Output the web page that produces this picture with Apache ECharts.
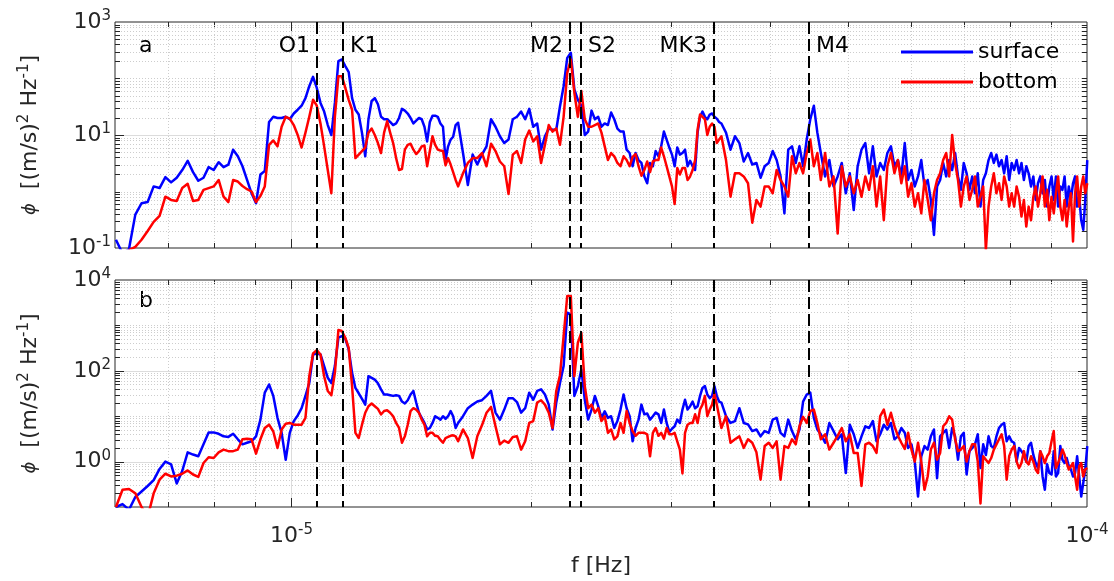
<!DOCTYPE html>
<html>
<head>
<meta charset="UTF-8">
<title>surface / bottom spectra</title>
<script src="https://cdn.jsdelivr.net/npm/echarts@6/dist/echarts.min.js"></script>
<style>
  html, body { margin: 0; padding: 0; background: #fff; }
  #main { width: 1114px; height: 581px; }
</style>
</head>
<body>
<div id="main"></div>
<script>
// spectral bins: f = k * df, kept bins per segment [first, last, step]
var df = 1.157e-7;
var binSteps = [[52, 140, 1], [142, 300, 2], [304, 400, 4], [405, 865, 5]];

// panel a
var surfA = [
  0.14, 0.08, 0.096, 0.39, 0.62, 0.65, 1.23, 1.15, 1.8, 1.45,
  1.75, 2.4, 3.5, 2.2, 1.55, 1.75, 2.7, 2.4, 3.3, 2.7,
  3.0, 5.5, 4.2, 2.8, 1.6, 0.93, 0.62, 2.0, 2.3, 17,
  21, 20, 20, 21, 19, 24, 28, 33, 45, 73,
  107, 68, 37, 26, 15, 10, 37, 203, 217, 166,
  130, 45, 28, 23, 10.9, 4.2, 19, 40, 45, 35,
  21, 19, 19, 17, 15, 16, 20, 29, 27, 24,
  20, 16, 18, 20, 19, 14, 7.7, 17, 22, 22,
  21, 16, 14, 3.6, 6.3, 8.3, 9.3, 15, 16.5,
  4.8, 1.3, 4.5, 3.0, 4.5, 6.3, 19, 14, 9.5, 7.2,
  8.3, 19, 21, 26, 19, 29, 14, 16, 5.5, 9.5,
  13, 12.4, 12.4, 32, 73, 232, 286, 64, 42, 33,
  10, 11.5, 27, 19, 21, 14, 16, 15, 25, 19,
  13, 11.5, 11.5, 5.5, 4.8, 2.8, 4.8, 3.6, 3.2, 1.85,
  1.4, 3.2, 2.8, 5.2, 4.2, 6.3, 11.5, 8.3, 6, 4.5,
  2.8, 6, 4.5, 4.8, 5.5, 2.8, 3.5, 2.8, 2.4, 11,
  21, 26, 21, 19, 23, 24, 21, 19.5, 17, 16,
  11, 5.5, 9.5, 7.2, 3.4, 4.8, 3.0, 3.2, 1.75, 2.8,
  3.2, 5.2, 3.6, 1.85, 0.41, 5.5, 6.3, 3.2, 6.3, 2.8, 8.3, 19, 33, 11, 4.8,
  1.85, 3.6, 1.23, 1.85, 3.2, 0.93, 2.1, 0.47, 2.8, 5.5,
  7.2, 2.1, 6.3, 1.85, 3.2, 2.4, 4.8, 6.3, 2.8, 3.6,
  1.85, 7.2, 1.6, 2.4, 1.23, 1.85, 3.6, 1.23, 1.6, 0.71,
  0.17, 1.23, 1.6, 3.2, 1.85, 3.6, 2.4, 4.8, 1.85, 1.07,
  3.2, 2.1, 1.07, 1.85, 0.93, 2.1, 0.54, 1.6, 2.1, 3.6,
  4.8, 3.2, 4.5, 2.8, 3.6, 2.1, 4.2, 1.6, 3.2, 2.4,
  3.6, 2.1, 3.2, 1.6, 2.8, 2.1, 1.23, 1.85, 0.71, 1.4,
  1.85, 0.93, 1.6, 0.54, 1.23, 1.85, 0.71, 1.85, 0.54, 1.23,
  1.07, 1.85, 0.54, 1.23, 0.71, 1.4, 1.85, 0.54, 0.81, 0.31,
  0.21, 0.71, 3.6
];
var botA = [
  0.04, 0.07, 0.092, 0.105, 0.14, 0.2, 0.29, 0.37, 0.81, 0.71,
  0.68, 1.15, 1.37, 0.68, 0.71, 1.07, 1.15, 1.23, 1.6, 0.81,
  0.65, 1.6, 1.5, 1.25, 1.1, 1.0, 0.65, 0.83, 1.23, 6.7,
  8, 6.3, 14, 21, 19.5, 15, 10, 6, 11, 21,
  42, 33, 16, 6.3, 2.4, 0.93, 21, 110, 110, 68,
  42, 28, 3.9, 4.5, 5.2, 6, 11, 13, 10, 7.2,
  4.8, 11, 17.5, 11, 7.2, 3.9, 2.4, 2.5, 5.5, 6.7,
  7, 5.5, 4.6, 5.2, 6.3, 6.5, 2.8, 5.2, 9.5, 6.7,
  5.5, 5.3, 5.2, 2.9, 3.9, 3.0, 2.2, 1.6, 1.23,
  2.1, 3.2, 3.9, 3.9, 4.8, 2.8, 7, 5.2, 3.4, 2.8,
  0.9, 4.5, 5.2, 3.2, 8.3, 12, 7.7, 9.5, 3.2, 6.7,
  15, 11.5, 13, 6.7, 21, 126, 217, 56, 21, 60,
  19, 14, 14, 15, 16, 11, 6.3, 3.6, 4.8, 4.2,
  3.2, 2.8, 4.2, 3.6, 2.8, 4.1, 4.6, 2.8, 1.9, 2.4,
  3.4, 2.2, 3.4, 3.6, 3.6, 6, 4.2, 2.8, 1.85, 1.23,
  0.6, 2.6, 2, 2.6, 2.6, 1.6, 1.85, 2.4, 3.6, 12.4,
  23, 21, 19, 10, 14, 16, 14, 7.2, 8.3, 9.5,
  3.6, 0.81, 2.1, 2.1, 1.85, 1.4, 0.28, 0.71, 0.54, 1.23,
  1.23, 0.93, 2.4, 1.6, 1.23, 0.81, 4.2, 2.1, 3.2, 2.1, 4.8, 8.3, 2.8, 4.8, 1.6,
  4.8, 1.23, 1.85, 0.18, 2.8, 1.23, 1.85, 0.93, 1.6, 0.81,
  1.85, 1.07, 2.8, 0.54, 1.85, 0.31, 2.8, 4.8, 2.1, 3.6,
  1.4, 2.8, 0.81, 1.4, 0.54, 0.93, 0.41, 1.6, 0.71, 0.31,
  0.93, 1.6, 2.1, 3.6, 4.8, 1.85, 10, 3.2, 1.6, 0.54,
  1.23, 1.85, 0.71, 1.07, 1.85, 0.54, 0.81, 1.23, 0.092, 0.54,
  1.23, 2.1, 0.93, 1.4, 0.71, 1.85, 1.23, 0.54, 0.93, 0.54,
  1.23, 0.81, 0.36, 0.71, 0.24, 0.54, 0.31, 0.81, 1.23, 0.54,
  0.93, 1.85, 0.54, 1.07, 0.31, 0.81, 0.41, 0.93, 1.85, 0.54,
  0.31, 0.71, 0.24, 0.54, 0.93, 0.13, 0.93, 1.85, 0.54, 1.23,
  1.85, 0.93, 1.4
];

// panel b
var surfB = [
  0.10, 0.116, 0.087, 0.166, 0.22, 0.29, 0.39, 0.69, 1.0, 0.87,
  0.33, 0.62, 1.6, 1.43, 1.31, 2.4, 4.4, 4.4, 4.1, 3.6,
  3.5, 4.1, 3.1, 2.4, 2.6, 2.8, 3.6, 8.4, 33, 50,
  28, 9.2, 4.3, 1.1, 4.3, 7.8, 10.4, 15, 28, 54,
  229, 241, 229, 127, 70, 54, 127, 535, 582, 508,
  296, 90, 42, 32, 24, 18, 76, 70, 64, 53,
  39, 30, 30, 29, 28, 29, 28, 21, 19, 22.5,
  30, 36, 20, 11.9, 9.2, 7.1, 5.1, 5.5, 7.1, 10,
  9.2, 8.4, 10, 8.7, 10, 13, 10, 5.5, 7.1,
  10, 15, 18, 21, 22.5, 28, 36, 12, 8.4, 14,
  25, 25, 20.5, 12, 15, 33, 23, 36, 39, 30,
  18, 5.1, 20, 54, 127, 1900, 1750, 28, 46, 107,
  23, 8.4, 14, 28, 16.6, 9.2, 12.8, 9.2, 10, 5.5,
  7.8, 14, 30, 15, 10, 2.8, 5.5, 8.4, 18, 11,
  11.5, 8.4, 10, 12, 11, 7.1, 14, 7.1, 4.5, 5.3,
  6, 8.4, 7.1, 14, 23, 14, 16.6, 21, 15, 16.6,
  28, 42, 46, 30, 25, 28, 46, 28, 21, 20,
  10, 7.1, 7.8, 15, 7.1, 6.6, 4.7, 5.1, 3.6, 4.7,
  4.3, 8.4, 9.2, 4.3, 3.6, 8.4, 4.7, 3.1, 5.1, 21, 30, 33, 9.2, 5.1, 4,
  2.6, 7.1, 4.7, 3.1, 4, 0.56, 6.5, 4, 2.0, 3.6,
  6, 5.5, 7.8, 2.8, 4, 6.5, 5.1, 7.1, 3.1, 3.6,
  5.5, 4.3, 2.0, 2.4, 1.0, 0.17, 1.31, 2.2, 1.84, 3.6,
  5.1, 0.43, 3.6, 4.3, 5, 2.0, 5.5, 3.6, 1.1, 3.6,
  4.3, 0.52, 1.7, 2.0, 2.4, 4, 0.72, 2.4, 1.4, 3.6,
  2.2, 2.0, 3.6, 5.5, 6.5, 7.1, 2.8, 3.6, 2.8, 2.6,
  1.0, 2.0, 1.7, 1.4, 1.0, 2.2, 2.6, 1.4, 0.93, 0.72,
  1.7, 0.47, 0.24, 0.87, 0.56, 0.52, 1.7, 0.47, 0.56, 2.2,
  1.1, 0.93, 1.2, 0.79, 0.67, 0.47, 0.56, 1.31, 0.47, 0.17,
  0.34, 0.67, 2.2
];
var botB = [
  0.1, 0.24, 0.25, 0.2, 0.1, 0.06, 0.2, 0.4, 0.54, 0.47,
  0.49, 0.54, 0.64, 0.52, 0.46, 0.93, 1.25, 1.2, 1.6, 1.84,
  1.7, 1.7, 1.84, 3.1, 3.2, 3.1, 1.5, 3.1, 5.5, 6.5,
  4.6, 2.0, 5.1, 6.8, 7.1, 6.5, 6.5, 6.5, 9.2, 76,
  241, 286, 229, 76, 36, 29, 90, 790, 750, 535,
  321, 46, 4.3, 3.3, 6.5, 11.9, 16.6, 19, 16.6, 14.5,
  10.9, 13, 13.5, 11.9, 10, 7.1, 5.5, 2.6, 3.6, 6.5,
  13, 15, 14, 11.9, 8.4, 6.5, 3.6, 4.3, 4.3, 3.7,
  3.6, 3.0, 2.6, 3.3, 3.5, 3.7, 3.8, 3.6, 2.8,
  5.1, 3.3, 1.2, 3.6, 6.3, 11.9, 16, 6, 2.4, 2.9,
  2.6, 3.5, 3.6, 1.84, 2.8, 7.1, 7.8, 20, 22.5, 18,
  11.9, 5.5, 36, 80, 580, 4440, 4440, 76, 415, 690,
  46, 15, 18, 11.9, 15, 7.8, 10, 4.3, 5.1, 3.1,
  3.6, 7.1, 4.3, 13, 7.1, 4.7, 3.7, 4.3, 4.3, 4.3,
  4, 1.31, 4.3, 5.5, 3.7, 4.3, 3.2, 5.5, 4, 4,
  4.3, 2.8, 1.84, 0.55, 4.3, 6.5, 7.1, 7.1, 11, 7.1,
  14, 18, 28, 10, 14, 18, 31, 18, 10, 5.5,
  10, 2.6, 3.1, 3.6, 2.0, 3.1, 2.6, 1.6, 0.4, 2.2,
  2.6, 2.0, 2.8, 0.40, 2.2, 2.0, 3.1, 2.4, 6, 9.7, 7.1, 13, 14, 7.1, 3.1,
  4, 1.84, 2.6, 3.7, 5.5, 2.8, 4, 1.55, 1.55, 0.29,
  2.4, 2.6, 2.2, 1.55, 10, 14, 6.5, 11.9, 6, 3.7,
  2.6, 1.9, 4.3, 1.84, 1.0, 2.6, 1.0, 0.24, 0.47, 1.84,
  2.6, 1.1, 1.55, 6, 7.1, 10, 8.4, 3.1, 1.7, 1.84,
  2.2, 1.0, 1.7, 2.4, 2.4, 1.0, 0.12, 1.31, 1.1, 0.93,
  1.2, 1.84, 2.4, 3.1, 4, 2.2, 0.4, 1.31, 1.84, 2.2,
  1.0, 0.72, 0.93, 1.7, 1.0, 0.87, 1.31, 1.0, 0.67, 0.56,
  1.7, 1.31, 0.93, 1.31, 1.55, 2.8, 4.7, 0.72, 0.93, 1.31,
  1.84, 1.4, 0.93, 0.67, 0.79, 0.93, 0.47, 0.24, 0.79, 0.93,
  0.47, 0.67, 0.72
];

// tidal constituents (Hz)
var tideNames = ['O1', 'K1', 'M2', 'S2', 'MK3', 'M4'];
var tideFreq = [1.0758e-5, 1.1607e-5, 2.2366e-5, 2.3148e-5, 3.3973e-5, 4.4732e-5];
var tideSide = ['left', 'right', 'left', 'right', 'left', 'right'];
var tideLabelLevel = 370;

// axes
var xRange = [6e-6, 1e-4];
var yRangeA = [0.1, 1000];
var yRangeB = [0.1, 10000];
var xLabelExp = [-5, -4];
var yLabelExpA = [-1, 1, 3];
var yLabelExpB = [0, 2, 4];

var FONT = 'DejaVu Sans';
var INK = '#262626';
var BLUE = '#0000ff';
var RED = '#ff0000';
var LW = 2.5;

var freq = [];
binSteps.forEach(function (s) {
  for (var k = s[0]; k <= s[1]; k += s[2]) freq.push(k * df);
});

function pairs(vals) {
  var out = [];
  for (var i = 0; i < vals.length && i < freq.length; i++) out.push([freq[i], vals[i]]);
  return out;
}

function powLabel(shown) {
  return function (v) {
    var e = Math.log10(v), r = Math.round(e);
    if (Math.abs(e - r) > 1e-6 || shown.indexOf(r) < 0) return '';
    return '{b|10}{s|' + r + '}';
  };
}

var labelRich = {
  b: { fontSize: 22, lineHeight: 26, fontFamily: FONT, color: INK },
  s: { fontSize: 15, lineHeight: 15, verticalAlign: 'top', fontFamily: FONT, color: INK }
};

function logTicks(lo, hi) {
  var out = [];
  for (var e = Math.floor(Math.log10(lo) + 1e-9); e < Math.ceil(Math.log10(hi) - 1e-9); e++) {
    for (var m = 1; m <= 9; m++) {
      var v = m * Math.pow(10, e);
      if (v > lo * 1.0001 && v < hi * 0.9999) out.push({ v: v, e: e, m: m });
    }
  }
  return out;
}

var majorGrid = { stroke: '#dcdcdc', lineWidth: 1 };
var minorGrid = { stroke: '#cdcdcd', lineWidth: 1, lineDash: [1, 2] };
var tickStyle = { stroke: INK, lineWidth: 1 };

function seg(x1, y1, x2, y2, style) {
  return { type: 'line', shape: { x1: x1, y1: y1, x2: x2, y2: y2 }, style: style, silent: true };
}

// grid lines and inward ticks on all four sides
function decor(yr, yMajorExp) {
  return function (params, api) {
    var cs = params.coordSys;
    var x0 = cs.x, y0 = cs.y, x1 = cs.x + cs.width, y1 = cs.y + cs.height;
    var kids = [];
    logTicks(xRange[0], xRange[1]).forEach(function (t) {
      var px = Math.round(api.coord([t.v, yr[0]])[0]) + 0.5;
      var major = t.m === 1;
      var len = major ? 9 : 5;
      kids.push(seg(px, y0, px, y1, major ? majorGrid : minorGrid));
      kids.push(seg(px, y1, px, y1 - len, tickStyle));
      kids.push(seg(px, y0, px, y0 + len, tickStyle));
    });
    logTicks(yr[0], yr[1]).forEach(function (t) {
      var py = Math.round(api.coord([xRange[0], t.v])[1]) + 0.5;
      var major = t.m === 1 && yMajorExp.indexOf(t.e) >= 0;
      var len = major ? 9 : 5;
      kids.push(seg(x0, py, x1, py, major ? majorGrid : minorGrid));
      kids.push(seg(x0, py, x0 + len, py, tickStyle));
      kids.push(seg(x1, py, x1 - len, py, tickStyle));
    });
    return { type: 'group', children: kids };
  };
}

// dashed constituent lines (+ names in panel a)
function tides(withNames) {
  return function (params, api) {
    var cs = params.coordSys;
    var kids = [];
    tideFreq.forEach(function (f, i) {
      var p = api.coord([f, tideLabelLevel]);
      var px = Math.round(p[0]);
      kids.push(seg(px, cs.y, px, cs.y + cs.height,
        { stroke: '#000', lineWidth: 2, lineDash: [12, 5] }));
      if (withNames) {
        var left = tideSide[i] === 'left';
        kids.push({
          type: 'text', x: px + (left ? -7 : 7), y: p[1], silent: true,
          style: { text: tideNames[i], fill: '#000', fontSize: 22, fontFamily: FONT,
                   align: left ? 'right' : 'left', verticalAlign: 'middle' }
        });
      }
    });
    return { type: 'group', children: kids };
  };
}

var yName = '{p|\u03d5}  [(m/s){s|2} Hz{s|-1}]';
var yNameStyle = {
  fontSize: 22, fontFamily: FONT, color: INK, lineHeight: 26,
  rich: {
    p: { fontSize: 18, fontStyle: 'italic', fontFamily: FONT, color: INK, lineHeight: 26 },
    s: { fontSize: 15, lineHeight: 15, verticalAlign: 'top', fontFamily: FONT, color: INK }
  }
};

function xAxisOf(gi, showLabels) {
  return {
    type: 'log', logBase: 10, gridIndex: gi, min: xRange[0], max: xRange[1],
    axisLine: { show: false }, axisTick: { show: false }, splitLine: { show: false },
    axisLabel: { show: showLabels, formatter: powLabel(xLabelExp), rich: labelRich, margin: 16,
                 showMinLabel: true, showMaxLabel: true },
    name: showLabels ? 'f [Hz]' : '', nameLocation: 'middle', nameGap: 48,
    nameTextStyle: { fontSize: 22, fontFamily: FONT, color: INK }
  };
}

function yAxisOf(gi, yr, shown) {
  return {
    type: 'log', logBase: 10, gridIndex: gi, min: yr[0], max: yr[1],
    axisLine: { show: false }, axisTick: { show: false }, splitLine: { show: false },
    axisLabel: { formatter: powLabel(shown), rich: labelRich, margin: 4,
                 showMinLabel: true, showMaxLabel: true },
    name: yName, nameLocation: 'middle', nameRotate: 90, nameGap: 72,
    nameTextStyle: yNameStyle
  };
}

function lineSeries(name, vals, color, gi, z) {
  return {
    name: name, type: 'line', xAxisIndex: gi, yAxisIndex: gi, data: pairs(vals),
    symbol: 'none', showSymbol: false, clip: true, silent: true, z: z,
    lineStyle: { color: color, width: LW, join: 'round' }, itemStyle: { color: color }
  };
}

var chart = echarts.init(document.getElementById('main'), null, { renderer: 'canvas' });
chart.setOption({
  animation: false,
  backgroundColor: '#fff',
  grid: [
    { left: 115, top: 22, width: 972, height: 226, show: true, borderColor: INK, borderWidth: 1, backgroundColor: 'transparent' },
    { left: 115, top: 280, width: 972, height: 227, show: true, borderColor: INK, borderWidth: 1, backgroundColor: 'transparent' }
  ],
  xAxis: [xAxisOf(0, false), xAxisOf(1, true)],
  yAxis: [yAxisOf(0, yRangeA, yLabelExpA), yAxisOf(1, yRangeB, yLabelExpB)],
  legend: {
    data: ['surface', 'bottom'], orient: 'vertical', left: 901, top: 41, padding: 0,
    icon: 'rect', itemWidth: 72, itemHeight: 3, itemGap: 8, selectedMode: false,
    textStyle: { fontSize: 22, lineHeight: 22, fontFamily: FONT, color: '#000' }
  },
  graphic: [
    { type: 'text', x: 139, y: 46, style: { text: 'a', fontSize: 22, fontFamily: FONT, fill: '#000', verticalAlign: 'middle' } },
    { type: 'text', x: 139, y: 301, style: { text: 'b', fontSize: 22, fontFamily: FONT, fill: '#000', verticalAlign: 'middle' } }
  ],
  series: [
    { type: 'custom', xAxisIndex: 0, yAxisIndex: 0, data: [[1e-5, 1]], z: 1, silent: true, renderItem: decor(yRangeA, [1]) },
    lineSeries('surface', surfA, BLUE, 0, 2),
    lineSeries('bottom', botA, RED, 0, 3),
    { type: 'custom', xAxisIndex: 0, yAxisIndex: 0, data: [[1e-5, 1]], z: 5, silent: true, renderItem: tides(true) },
    { type: 'custom', xAxisIndex: 1, yAxisIndex: 1, data: [[1e-5, 1]], z: 1, silent: true, renderItem: decor(yRangeB, [0, 2]) },
    lineSeries('surface', surfB, BLUE, 1, 2),
    lineSeries('bottom', botB, RED, 1, 3),
    { type: 'custom', xAxisIndex: 1, yAxisIndex: 1, data: [[1e-5, 1]], z: 5, silent: true, renderItem: tides(false) }
  ]
});
</script>
</body>
</html>
